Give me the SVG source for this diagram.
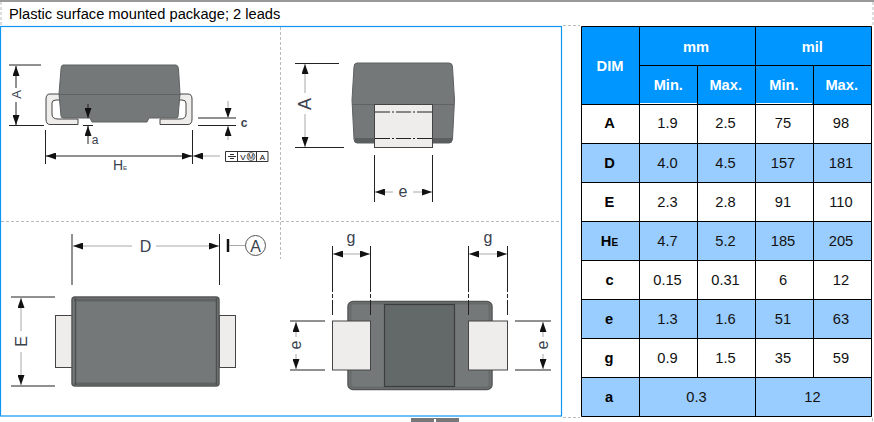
<svg xmlns="http://www.w3.org/2000/svg" width="874" height="422" viewBox="0 0 874 422">
<style>
text{font-family:"Liberation Sans",Arial,sans-serif;fill:#000}
.dim{fill:#3a4250;font-size:16px;text-anchor:middle}
.ln{stroke:#222;stroke-width:1;fill:none}
.gl{stroke:#a8a8a8;stroke-width:1;fill:none}
.body{fill:#747878;stroke:#5e6262;stroke-width:1}
.lead{fill:#eeedeb;stroke:#444;stroke-width:1}
.dash{stroke:#bbb;stroke-width:1;stroke-dasharray:3 2;fill:none}
.tb{stroke:#000;stroke-width:1;fill:none}
.h{fill:#fff;font-size:14.670px;font-weight:bold;text-anchor:middle}
.v{font-size:14.670px;text-anchor:middle;fill:#111}
.k{font-size:14.670px;font-weight:bold;text-anchor:middle}
</style>
<defs>
<marker id="ar" markerWidth="10" markerHeight="7" refX="10" refY="3.500" orient="auto-start-reverse" markerUnits="userSpaceOnUse"><path d="M0 0L10 3.500L0 7Z" fill="#111"/></marker>
</defs>
<rect width="874" height="422" fill="#fff"/>
<rect x="0" y="0" width="874" height="2" fill="#999"/>
<rect x="411" y="418" width="48" height="4" fill="#777"/><rect x="434" y="419" width="2" height="3" fill="#fff"/>
<g id="frame">
<path class="dash" d="M1 2V26M563 25.500H580M873 2V26M563 417.500H580M872.500 418V422M280.500 27V259M1 221.500H561"/>
<rect x="0.500" y="26.500" width="561" height="389.500" fill="none" stroke="#0d96f2" stroke-width="1.200"/>
</g>
<text id="title" x="9" y="19" font-size="14.670">Plastic surface mounted package; 2 leads</text>

<g id="side-view">
<path d="M60 94H50Q46 94 46 99V119Q46 124.500 50 124.500H78V119H58Q52 119 52 114V103Q52 100 56 100H60Z" class="lead"/>
<path d="M180 94H188Q192 94 192 99V119Q192 124.500 188 124.500H160V119H180Q186 119 186 114V103Q186 100 182 100H178Z" class="lead"/>
<path class="body" d="M63 65H176Q178 65 178.500 69L180 94L178 117Q178 118 175 118H149L147 122H92L90 118H64Q61 118 61 116L59 94L61 69Q61 65 63 65Z"/>
<path d="M59 94.500H180" stroke="#5e6262" fill="none"/>
<path class="ln" d="M9 65H41M9 125.500H44"/>
<path class="ln" d="M16 66V88" marker-start="url(#ar)"/><path class="ln" d="M16 102V125" marker-end="url(#ar)"/>
<text class="dim" transform="translate(21 94.500) rotate(-90)" style="font-size:13px">A</text>
<path class="ln" d="M88 104V118" marker-end="url(#ar)"/><path class="ln" d="M88 144V126" marker-end="url(#ar)"/><path class="ln" d="M83 125.500H93"/>
<text class="dim" x="95" y="144" style="font-size:12px">a</text>
<path class="ln" d="M45.500 130V164M192.500 130V164"/>
<path class="ln" d="M46 156H192" marker-start="url(#ar)" marker-end="url(#ar)"/>
<path class="gl" d="M193 156H220" marker-start="url(#ar)"/>
<text class="dim" x="120" y="170" style="font-size:14px">H<tspan font-size="6">E</tspan></text>
<path class="ln" d="M198 118H236M198 125.500H236"/>
<path class="gl" d="M228 101V118" marker-end="url(#ar)"/><path class="gl" d="M228 140V126" marker-end="url(#ar)"/>
<text class="dim" x="244" y="127" style="font-size:12px;font-weight:bold">c</text>
<path d="M225.500 151.500H268V161.500H225.500ZM237.500 151.500V161.500M256.500 151.500V161.500" fill="#fff" stroke="#333"/>
<path d="M228 156.500H236M230 154.500H234M230 158.500H234" stroke="#333" fill="none"/>
<text x="243" y="160" font-size="8" text-anchor="middle" fill="#444">V</text>
<circle cx="251" cy="156.500" r="4" fill="none" stroke="#666"/>
<text x="251" y="159" font-size="7" text-anchor="middle" fill="#444">M</text>
<text x="262.500" y="160" font-size="8" text-anchor="middle" fill="#444">A</text>
</g>

<g id="end-view">
<path class="body" d="M357 63H449Q452.500 63 452.500 67L454.500 100L452.500 139Q452 143 449 143H357Q354 143 354 139L352 100L354 67Q354 63 357 63Z"/>
<path d="M352 104.500H454" stroke="#5e6262" fill="none"/>
<path d="M355 138H374V143H357Q355 143 355 140ZM433 138H452V141Q452 143 449 143H433Z" fill="#5a5e5e"/>
<rect x="374.500" y="104.500" width="58" height="43" class="lead"/>
<path d="M375 112H432M375 138.500H432" stroke="#222" stroke-width="1.200" stroke-dasharray="15 2 2 2" fill="none"/>
<path class="ln" d="M295 63.500H339M295 147.500H344"/>
<path class="gl" d="M305 64V93" marker-start="url(#ar)"/><path class="gl" d="M305 114V147" marker-end="url(#ar)"/>
<text class="dim" transform="translate(311 104) rotate(-90)" style="font-size:18px">A</text>
<path class="ln" d="M374.500 155V202M432.500 155V202"/>
<path class="gl" d="M375 192H393" marker-start="url(#ar)"/><path class="gl" d="M413 192H432" marker-end="url(#ar)"/>
<text class="dim" x="403" y="197">e</text>
</g>

<g id="top-view">
<rect x="55.500" y="315.500" width="17" height="52" class="lead"/>
<rect x="219.500" y="315.500" width="16" height="52" class="lead"/>
<rect x="72" y="297" width="147" height="89" rx="3" fill="#747878" stroke="#555" stroke-width="1.500"/>
<path d="M74 300H217M74 384H217" stroke="#5e6262" stroke-width="3" fill="none"/>
<path d="M75.500 298V385M216.500 298V385" stroke="#4c5050" stroke-width="1.500" fill="none"/>
<path class="ln" d="M72 234V285M219.500 234V285"/>
<path class="gl" d="M73 246H132" marker-start="url(#ar)"/><path class="gl" d="M156 246H219" marker-end="url(#ar)"/>
<text class="dim" x="145.500" y="252">D</text>
<path d="M228 239V252" stroke="#111" stroke-width="2.500" fill="none"/><path class="gl" d="M229 245.500H246"/>
<circle cx="255.500" cy="245.500" r="10" fill="#fff" stroke="#555"/>
<text class="dim" x="255.500" y="251.500">A</text>
<path class="ln" d="M11 297H55M11 386H55"/>
<path class="gl" d="M21 298V331" marker-start="url(#ar)"/><path class="gl" d="M21 352V385" marker-end="url(#ar)"/>
<text class="dim" transform="translate(27 341.500) rotate(-90)">E</text>
</g>

<g id="bottom-view">
<rect x="348" y="301.500" width="144" height="88" rx="5" fill="#747878" stroke="#555" stroke-width="1.500"/>
<rect x="350.500" y="303.500" width="139" height="84" rx="3" fill="none" stroke="#666a6a" stroke-width="2"/>
<rect x="384.500" y="304.500" width="70" height="82" fill="#636868" stroke="#3c3e3e" stroke-width="1.200"/>
<rect x="332.500" y="321" width="38" height="49" class="lead"/>
<rect x="468.500" y="321" width="39" height="49" class="lead"/>
<path class="ln" d="M332.500 246V292M370.500 246V292M468.500 246V292M507.500 246V292M332.500 294V298M370.500 294V298M468.500 294V298M507.500 294V298M332.500 300V315M370.500 300V315M468.500 300V315M507.500 300V315"/>
<path class="gl" d="M333 254H370" marker-start="url(#ar)" marker-end="url(#ar)"/>
<path class="gl" d="M469 254H507" marker-start="url(#ar)" marker-end="url(#ar)"/>
<text class="dim" x="351" y="243">g</text>
<text class="dim" x="488" y="243">g</text>
<path class="ln" d="M290 321H325M290 370H325M515 321H551M515 370H551"/>
<path class="gl" d="M296 322V337" marker-start="url(#ar)"/><path class="gl" d="M296 354V369" marker-end="url(#ar)"/>
<path class="gl" d="M543 322V337" marker-start="url(#ar)"/><path class="gl" d="M543 354V369" marker-end="url(#ar)"/>
<text class="dim" transform="translate(301 345) rotate(-90)">e</text>
<text class="dim" transform="translate(548 345) rotate(-90)">e</text>
</g>

<g id="table">
<rect x="581.500" y="26.500" width="290" height="78" fill="#0096ff"/>
<rect x="581.500" y="143.500" width="290" height="39" fill="#99ccff"/>
<rect x="581.500" y="221.500" width="290" height="39" fill="#99ccff"/>
<rect x="581.500" y="299.500" width="290" height="39" fill="#99ccff"/>
<rect x="581.500" y="377.500" width="290" height="39" fill="#99ccff"/>
<path d="M640 103.500H697M756 103.500H812" stroke="#fff" stroke-width="1"/>
<path class="tb" d="M581.500 26.500H871.500V416.500H581.500ZM639.500 26.500V416.500M755.500 26.500V416.500M697.500 65.500V377.500M813.500 65.500V377.500M639.500 65.500H871.500M581.500 104.500H871.500M581.500 143.500H871.500M581.500 182.500H871.500M581.500 221.500H871.500M581.500 260.500H871.500M581.500 299.500H871.500M581.500 338.500H871.500M581.500 377.500H871.500"/>
<text class="h" x="610" y="71">DIM</text><text class="h" x="696" y="51.500">mm</text><text class="h" x="812.300" y="51.500">mil</text>
<text class="h" x="668.300" y="90">Min.</text><text class="h" x="725.700" y="90">Max.</text><text class="h" x="784" y="90">Min.</text><text class="h" x="841.700" y="90">Max.</text>
<text class="k" x="609.500" y="128">A</text><text class="v" x="667.500" y="128">1.9</text><text class="v" x="725.500" y="128">2.5</text><text class="v" x="783" y="128">75</text><text class="v" x="841" y="128">98</text>
<text class="k" x="609.500" y="168">D</text><text class="v" x="667.500" y="168">4.0</text><text class="v" x="725.500" y="168">4.5</text><text class="v" x="783" y="168">157</text><text class="v" x="841" y="168">181</text>
<text class="k" x="609.500" y="207">E</text><text class="v" x="667.500" y="207">2.3</text><text class="v" x="725.500" y="207">2.8</text><text class="v" x="783" y="207">91</text><text class="v" x="841" y="207">110</text>
<text class="k" x="609.500" y="246">H<tspan font-size="10">E</tspan></text><text class="v" x="667.500" y="246">4.7</text><text class="v" x="725.500" y="246">5.2</text><text class="v" x="783" y="246">185</text><text class="v" x="841" y="246">205</text>
<text class="k" x="609.500" y="285">c</text><text class="v" x="667.500" y="285">0.15</text><text class="v" x="725.500" y="285">0.31</text><text class="v" x="783" y="285">6</text><text class="v" x="841" y="285">12</text>
<text class="k" x="609" y="324">e</text><text class="v" x="667.500" y="324">1.3</text><text class="v" x="725.500" y="324">1.6</text><text class="v" x="783" y="324">51</text><text class="v" x="841" y="324">63</text>
<text class="k" x="609" y="363">g</text><text class="v" x="667.500" y="363">0.9</text><text class="v" x="725.500" y="363">1.5</text><text class="v" x="783" y="363">35</text><text class="v" x="841" y="363">59</text>
<text class="k" x="609" y="402">a</text><text class="v" x="696.500" y="402">0.3</text><text class="v" x="812.500" y="402">12</text>
</g>
</svg>
